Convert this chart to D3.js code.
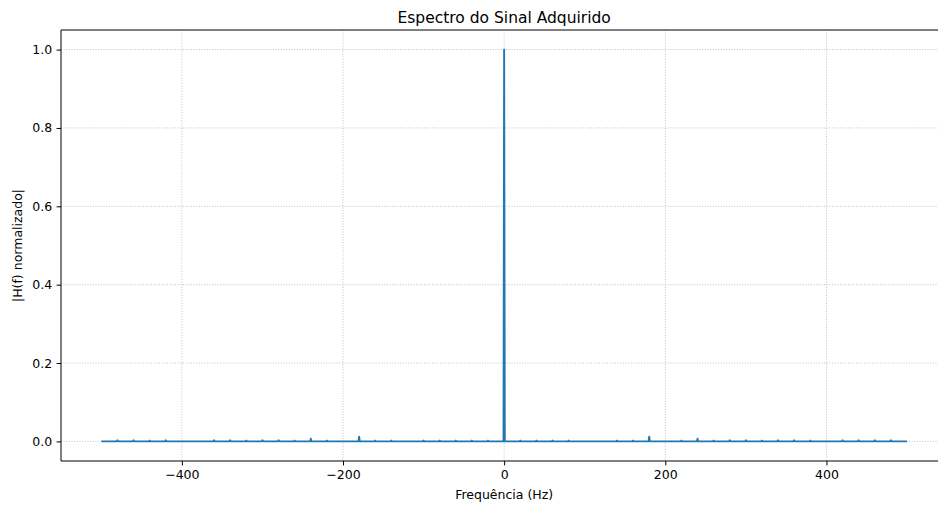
<!DOCTYPE html>
<html>
<head>
<meta charset="utf-8">
<script src="https://cdn.jsdelivr.net/npm/d3@7"></script>
<style>
  html, body { margin: 0; padding: 0; background: #fff; }
  svg { display: block; font-family: "DejaVu Sans", sans-serif; }
</style>
</head>
<body>
<div id="chart"></div>
<script>
// ---- Data ----
const title = "Espectro do Sinal Adquirido";
const xLabel = "Frequência (Hz)";
const yLabel = "|H(f) normalizado|";
const freqRange = [-500, 500];
// spectral lines (Hz) and normalized magnitudes
const peakFreqs = [-480, -460, -440, -420, -360, -340, -320, -300, -280, -260, -240, -220, -180, -160, -140, -100, -80, -60, -40, -20,
                   0,
                   20, 40, 60, 80, 140, 160, 180, 220, 240, 260, 280, 300, 320, 340, 360, 380, 420, 440, 460, 480];
const peakMags  = [0.003, 0.003, 0.002, 0.003, 0.003, 0.003, 0.002, 0.003, 0.003, 0.002, 0.007, 0.002, 0.012, 0.002, 0.002, 0.002, 0.002, 0.002, 0.002, 0.002,
                   1.0,
                   0.002, 0.002, 0.002, 0.002, 0.002, 0.002, 0.012, 0.002, 0.007, 0.002, 0.003, 0.003, 0.002, 0.003, 0.003, 0.002, 0.003, 0.003, 0.003, 0.003];
const xTicks = [-400, -200, 0, 200, 400];
const yTicks = [0.0, 0.2, 0.4, 0.6, 0.8, 1.0];

// build line points from the spectral lines (baseline is zero)
const pts = [[freqRange[0], 0]];
peakFreqs.forEach((f, i) => {
  pts.push([f - 0.8, 0], [f, peakMags[i]], [f + 0.8, 0]);
});
pts.push([freqRange[1], 0]);

// ---- Layout ----
const W = 938, H = 509;
const mL = 61, mT = 30, mR = 947.3, mB = 461;

const svg = d3.select("#chart").append("svg").attr("width", W).attr("height", H);

const x = d3.scaleLinear().domain([-550, 550]).range([mL, mR]);
const y = d3.scaleLinear().domain([-0.05, 1.05]).range([mB, mT]);

// grid
const grid = svg.append("g");
xTicks.forEach(t => grid.append("line")
  .attr("x1", x(t)).attr("x2", x(t)).attr("y1", mT).attr("y2", mB)
  .attr("stroke", "#b0b0b0").attr("stroke-width", 0.8).attr("stroke-dasharray", "1,1.65"));
yTicks.forEach(t => grid.append("line")
  .attr("x1", mL).attr("x2", mR).attr("y1", y(t)).attr("y2", y(t))
  .attr("stroke", "#b0b0b0").attr("stroke-width", 0.8).attr("stroke-dasharray", "1,1.65"));

// line
svg.append("path")
  .datum(pts)
  .attr("fill", "none")
  .attr("stroke", "#1f77b4")
  .attr("stroke-width", 1.9)
  .attr("stroke-linejoin", "round")
  .attr("d", d3.line().x(d => x(d[0])).y(d => y(d[1])));

// axes
const fmtX = d => d < 0 ? "\u2212" + Math.abs(d) : String(d);
const xAxis = svg.append("g").attr("transform", `translate(0,${mB})`)
  .call(d3.axisBottom(x).tickValues(xTicks).tickFormat(fmtX).tickSizeOuter(0).tickSize(4.4).tickPadding(4.4));
const yAxis = svg.append("g").attr("transform", `translate(${mL},0)`)
  .call(d3.axisLeft(y).tickValues(yTicks).tickFormat(d3.format(".1f")).tickSizeOuter(0).tickSize(4.4).tickPadding(4.4));
[xAxis, yAxis].forEach(a => {
  a.select(".domain").remove();
  a.selectAll("text").attr("font-family", "DejaVu Sans").attr("font-size", "12.5px").attr("fill", "#000");
  a.selectAll("line").attr("stroke", "#000").attr("stroke-width", 1);
});

// spines (right spine falls outside the image)
const sp = svg.append("g").attr("stroke", "#000").attr("stroke-width", 1).attr("fill", "none");
sp.append("line").attr("x1", mL).attr("x2", mL).attr("y1", mT).attr("y2", mB);
sp.append("line").attr("x1", mL).attr("x2", mR).attr("y1", mB).attr("y2", mB);
sp.append("line").attr("x1", mL).attr("x2", mR).attr("y1", mT).attr("y2", mT);
sp.append("line").attr("x1", mR).attr("x2", mR).attr("y1", mT).attr("y2", mB);

// labels
svg.append("text").attr("x", (mL + mR) / 2).attr("y", mT - 7)
  .attr("text-anchor", "middle").attr("font-size", "15.5px").attr("fill", "#000").text(title);
svg.append("text").attr("x", (mL + mR) / 2).attr("y", 499)
  .attr("text-anchor", "middle").attr("font-size", "12.5px").attr("fill", "#000").text(xLabel);
svg.append("text").attr("transform", `translate(22,${(mT + mB) / 2}) rotate(-90)`)
  .attr("text-anchor", "middle").attr("font-size", "12.5px").attr("fill", "#000").text(yLabel);
</script>
</body>
</html>
